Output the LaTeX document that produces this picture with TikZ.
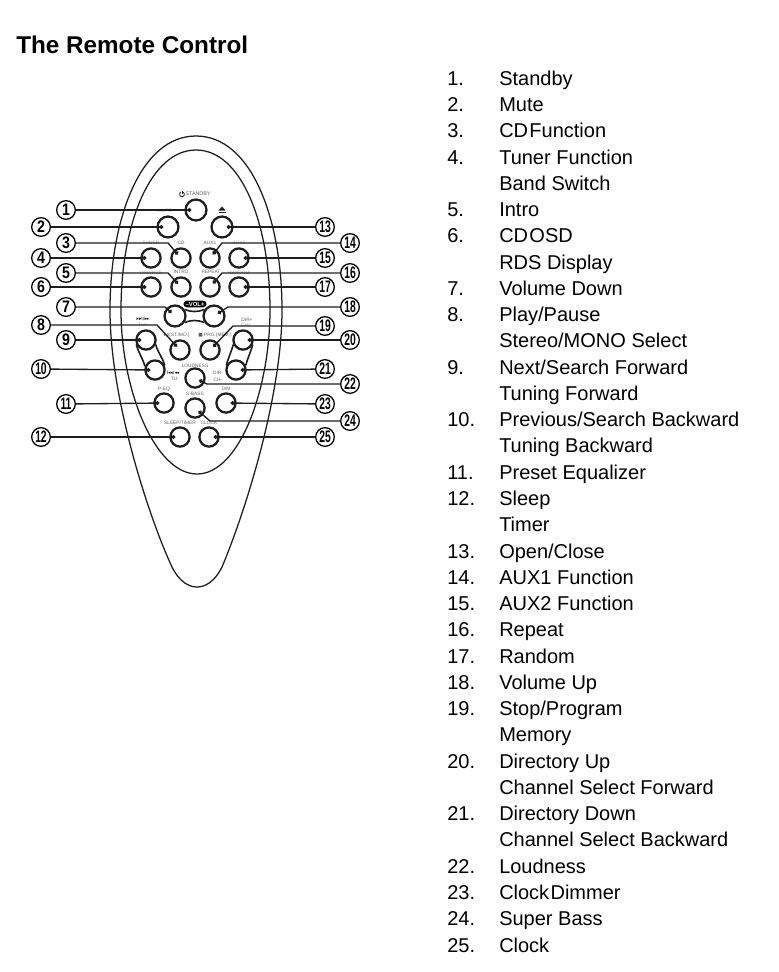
\documentclass[tikz,border=0pt]{standalone}
\usepackage{fontspec}
\usepackage{xcolor}
\setmainfont{Liberation Sans}
\newfontfamily\symfont{DejaVu Sans}
\usetikzlibrary{arrows.meta,positioning,shapes.geometric}
\definecolor{RInk}{RGB}{30,30,30}
\definecolor{RLabel}{RGB}{95,95,95}
\definecolor{RFaint}{RGB}{165,165,165}
\newcommand{\nnum}[1]{\scalebox{.62}[1]{#1}}
\newcommand{\snum}[1]{\scalebox{.85}[1]{#1}}
\newcommand{\tight}[1]{{\spaceskip=1pt #1}}

\begin{document}
\begin{tikzpicture}[
    x=0.75pt,
    y=-0.75pt,
    shell/.style={draw=RInk, line width=0.95pt},
    btn/.style={
      circle,
      draw=RInk,
      line width=1.7pt,
      minimum size=14.4pt,
      inner sep=0pt
    },
    bigbtn/.style={btn, minimum size=15.7pt},
    numc/.style={
      circle,
      draw=black,
      line width=0.95pt,
      minimum size=14pt,
      inner sep=0pt,
      font=\fontsize{12.5}{13}\selectfont\bfseries
    },
    lead/.style={
      -{Circle[length=3pt]},
      draw=RInk,
      line width=1pt,
      shorten >=3.5pt
    },
    link/.style={draw=RInk, line width=1.2pt},
    tag/.style={inner sep=0pt, text=RLabel, font=\fontsize{3.6}{4}\selectfont},
    faint/.style={tag, text=RFaint},
    glyph/.style={inner sep=0pt, text=black, font=\fontsize{3.6}{4}\selectfont\symfont}
  ]
    \useasboundingbox (0,0) rectangle (779,972);

    \node[anchor=west, inner sep=0pt, font=\fontsize{18.2}{20}\selectfont\bfseries] (title) at (16,45) {The Remote Control};

    \draw[shell] (196,136) .. controls (140,136) and (110,220) .. (110,310)
      .. controls (110,400) and (150,520) .. (172,567)
      .. controls (180,583) and (190,587) .. (197,587)
      .. controls (204,587) and (214,583) .. (222,567)
      .. controls (242,520) and (282,400) .. (282,310)
      .. controls (282,220) and (252,136) .. (196,136) -- cycle;
    \draw[shell] (196,150) .. controls (150,150) and (121,225) .. (121,310)
      .. controls (121,390) and (155,474) .. (197,474)
      .. controls (239,474) and (270,390) .. (270,310)
      .. controls (270,225) and (242,150) .. (196,150) -- cycle;

    \node[bigbtn] (standby) at (196,210) {};
    \node[bigbtn] (mute) at (168,227) {};
    \node[btn] (tuner) at (151,258) {};
    \node[btn] (cd) at (181,258) {};
    \node[btn] (osd) at (151,287) {};
    \node[btn] (intro) at (181,287) {};
    \node[bigbtn] (volm) at (175,316) {};
    \node[btn] (stmo) at (180,350) {};
    \node[btn] (next) at (146,340) {};
    \node[btn] (prev) at (155,370) {};
    \node[btn] (peq) at (164,403) {};
    \node[btn] (sleep) at (180,437) {};
    \node[bigbtn] (eject) at (222,227) {};
    \node[btn] (aux1) at (210,258) {};
    \node[btn] (aux2) at (239,258) {};
    \node[btn] (repeat) at (210,287) {};
    \node[btn] (random) at (239,287) {};
    \node[bigbtn] (volp) at (214,316) {};
    \node[btn] (prg) at (210,350) {};
    \node[btn] (dirp) at (243,340) {};
    \node[btn] (dirm) at (236,370) {};
    \node[btn] (loud) at (195,378) {};
    \node[btn] (dim) at (226,403) {};
    \node[btn] (sbass) at (195,408) {};
    \node[btn] (clock) at (209,437) {};

    \draw[link] (volm.35) to[bend right=22] (volp.145);
    \draw[link] (volm.-35) to[bend left=22] (volp.-145);
    \draw[link] (next.205) to[out=-75,in=105] (prev.160);
    \draw[link] (next.-25) to[out=-75,in=105] (prev.25);
    \draw[link] (dirp.-25) to[out=-105,in=75] (dirm.25);
    \draw[link] (dirp.205) to[out=-105,in=75] (dirm.155);

    \node[tag, font=\fontsize{4}{4}\selectfont] (tstandby) at (198,194) {STANDBY};
    \node[faint] (tmute) at (165,211) {MUTE};
    \node[faint] (ttuner) at (151,243) {TUNER};
    \node[tag] (tcd) at (181,243) {CD};
    \node[tag] (taux1) at (210,243) {AUX1};
    \node[faint] (taux2) at (239,243) {AUX2};
    \node[faint] (tosd) at (151,273) {OSD/RDS};
    \node[tag] (tintro) at (181,272) {INTRO};
    \node[tag] (trepeat) at (211,272) {REPEAT};
    \node[faint] (trandom) at (239,273) {RANDOM};
    \node[fill=black, text=white, rounded corners=2.5pt, inner xsep=1.6pt, inner ysep=0.9pt, font=\fontsize{4.4}{4.4}\selectfont\bfseries] (tvol) at (195,304) {--VOL+};
    \node[glyph] (tnext) at (143,319) {▸▸I/▸▸};
    \node[faint] (ttup) at (143,325) {TU+};
    \node[tag] (tstmo) at (177,335) {{\symfont ▸}II(ST./MO.)};
    \node[tag] (tprg) at (215,335) {{\symfont ■} PRG.(MEM.)};
    \node[tag] (tdirp) at (247,320) {DIR+};
    \node[faint] (tchp) at (246,325) {CH+};
    \node[glyph] (tprev) at (173,373) {I◂◂/◂◂};
    \node[tag] (ttum) at (175,379) {TU-};
    \node[tag] (tdirm) at (218,373) {DIR-};
    \node[tag] (tchm) at (218,380) {CH-};
    \node[tag] (tloud) at (195,366) {LOUDNESS};
    \node[tag] (tpeq) at (164,389) {P-EQ};
    \node[tag] (tsbass) at (195,394) {S-BASS};
    \node[tag] (tdim) at (226,389) {DIM};
    \node[tag] (tsleep) at (180,423) {SLEEP/TIMER};
    \node[tag] (tclock) at (209,423) {CLOCK};

    \draw[RInk, line width=0.6pt] (183.2,192.2) arc[start angle=-60, end angle=240, radius=2.4];
    \draw[RInk, line width=0.6pt] (182,190.5) -- (182,194.3);
    \fill[RInk] (218.5,210.5) -- (222,206.5) -- (225.5,210.5) -- cycle;
    \fill[RInk] (218.5,211.5) rectangle (225.5,213);

    \node[numc] (n1) at (66,210) {\snum{1}};
    \node[numc] (n2) at (41,227) {\snum{2}};
    \node[numc] (n3) at (66,243) {\snum{3}};
    \node[numc] (n4) at (41,258) {\snum{4}};
    \node[numc] (n5) at (66,273) {\snum{5}};
    \node[numc] (n6) at (41,287) {\snum{6}};
    \node[numc] (n7) at (66,307) {\snum{7}};
    \node[numc] (n8) at (41,325) {\snum{8}};
    \node[numc] (n9) at (66,340) {\snum{9}};
    \node[numc] (n10) at (41,369) {\nnum{10}};
    \node[numc] (n11) at (66,404) {\nnum{11}};
    \node[numc] (n12) at (41,437) {\nnum{12}};
    \node[numc] (n13) at (325,227) {\nnum{13}};
    \node[numc] (n14) at (350,243) {\nnum{14}};
    \node[numc] (n15) at (325,258) {\nnum{15}};
    \node[numc] (n16) at (350,273) {\nnum{16}};
    \node[numc] (n17) at (325,287) {\nnum{17}};
    \node[numc] (n18) at (350,307) {\nnum{18}};
    \node[numc] (n19) at (325,326) {\nnum{19}};
    \node[numc] (n20) at (350,340) {\nnum{20}};
    \node[numc] (n21) at (325,369) {\nnum{21}};
    \node[numc] (n22) at (350,384) {\nnum{22}};
    \node[numc] (n23) at (325,404) {\nnum{23}};
    \node[numc] (n24) at (350,421) {\nnum{24}};
    \node[numc] (n25) at (325,437) {\nnum{25}};

    \coordinate (e3) at (168,243);
    \coordinate (e5) at (168,273);
    \coordinate (e7) at (165,307);
    \coordinate (e8) at (157,325);
    \coordinate (e14) at (222,243);
    \coordinate (e16) at (222,273);
    \coordinate (e18) at (228,307);
    \coordinate (e19) at (233,326);
    \coordinate (e22) at (207,384);
    \coordinate (e24) at (210,421);

    \draw[lead] (n1) -- (standby.center);
    \draw[lead] (n2) -- (mute.center);
    \draw[lead] (n3) -- (e3) -- (cd.center);
    \draw[lead] (n4) -- (tuner.center);
    \draw[lead] (n5) -- (e5) -- (intro.center);
    \draw[lead] (n6) -- (osd.center);
    \draw[lead] (n7) -- (e7) -- (volm.center);
    \draw[lead] (n8) -- (e8) -- (stmo.center);
    \draw[lead] (n9) -- (next.center);
    \draw[lead] (n10) -- (prev.center);
    \draw[lead] (n11) -- (peq.center);
    \draw[lead] (n12) -- (sleep.center);
    \draw[lead] (n13) -- (eject.center);
    \draw[lead] (n14) -- (e14) -- (aux1.center);
    \draw[lead] (n15) -- (aux2.center);
    \draw[lead] (n16) -- (e16) -- (repeat.center);
    \draw[lead] (n17) -- (random.center);
    \draw[lead] (n18) -- (e18) -- (volp.center);
    \draw[lead] (n19) -- (e19) -- (prg.center);
    \draw[lead] (n20) -- (dirp.center);
    \draw[lead] (n21) -- (dirm.center);
    \draw[lead] (n22) -- (e22) -- (loud.center);
    \draw[lead] (n23) -- (dim.center);
    \draw[lead] (n24) -- (e24) -- (sbass.center);
    \draw[lead] (n25) -- (clock.center);

    \node[anchor=north west, inner sep=0pt, font=\fontsize{15}{19.7}\selectfont] (functions) at (447,66.6) {%
      \begin{tabular}{@{}p{39pt}@{}l@{}}
      1. & Standby\\
      2. & Mute\\
      3. & \tight{CD Function}\\
      4. & Tuner Function\\
         & Band Switch\\
      5. & Intro\\
      6. & \tight{CD OSD}\\
         & RDS Display\\
      7. & Volume Down\\
      8. & Play/Pause\\
         & Stereo/MONO Select\\
      9. & Next/Search Forward\\
         & Tuning Forward\\
      10. & Previous/Search Backward\\
         & Tuning Backward\\
      11. & Preset Equalizer\\
      12. & Sleep\\
         & Timer\\
      13. & Open/Close\\
      14. & AUX1 Function\\
      15. & AUX2 Function\\
      16. & Repeat\\
      17. & Random\\
      18. & Volume Up\\
      19. & Stop/Program\\
         & Memory\\
      20. & Directory Up\\
         & Channel Select Forward\\
      21. & Directory Down\\
         & Channel Select Backward\\
      22. & Loudness\\
      23. & \tight{Clock Dimmer}\\
      24. & Super Bass\\
      25. & Clock
      \end{tabular}};
  \end{tikzpicture}
\end{document}
